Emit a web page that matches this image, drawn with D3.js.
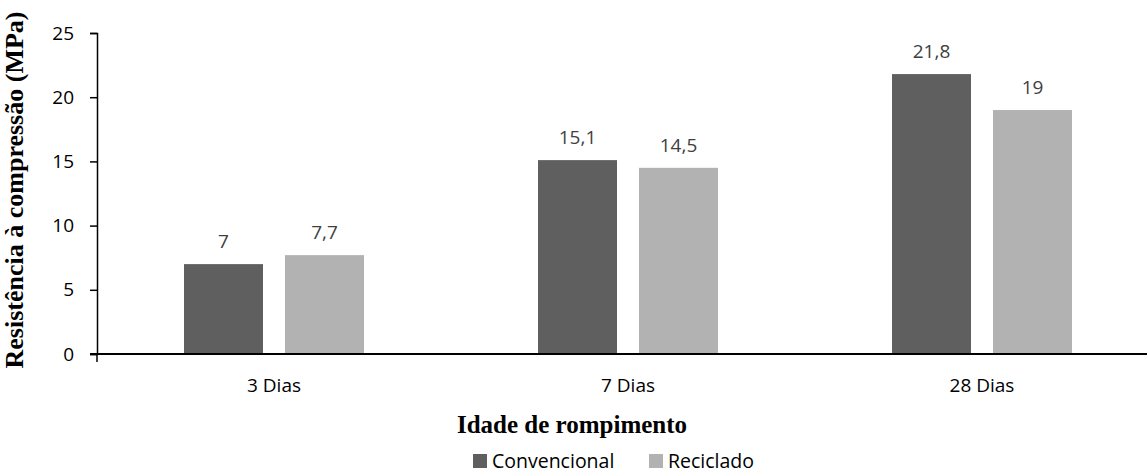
<!DOCTYPE html>
<html>
<head>
<meta charset="utf-8">
<script src="https://cdn.jsdelivr.net/npm/d3@7"></script>
<style>
  body { margin: 0; background: #fff; }
  svg text { font-family: "Open Sans", sans-serif; }
</style>
</head>
<body>
<svg id="chart" width="1147" height="475"></svg>
<script>
// chart data
var categories = ["3 Dias", "7 Dias", "28 Dias"];
var seriesNames = ["Convencional", "Reciclado"];
var convencional = [7, 15.1, 21.8];
var reciclado = [7.7, 14.5, 19];
var yTicks = [0, 5, 10, 15, 20, 25];
var colors = ["#5f5f5f", "#b2b2b2"];

(function() {
  var svg = d3.select("#chart");
  var plotLeft = 97, plotTop = 33, plotBottom = 354;
  var band = 354, barW = 79, gap = 22, offset = 87;

  // x scale - the last band runs a bit past the window, like the original
  var x = d3.scaleBand()
    .domain(categories)
    .range([plotLeft, plotLeft + band * categories.length]);

  var y = d3.scaleLinear().domain([0, 25]).range([plotBottom, plotTop]);

  var rows = categories.map(function(c, i) {
    return { cat: c, vals: [convencional[i], reciclado[i]] };
  });

  var groups = svg.selectAll("g.grp")
    .data(rows)
    .enter().append("g")
    .attr("class", "grp")
    .attr("transform", function(d) { return "translate(" + x(d.cat) + ",0)"; });

  function pairs(d) { return d.vals.map(function(v, j) { return { v: v, j: j }; }); }

  // bars
  groups.selectAll("rect")
    .data(pairs)
    .enter().append("rect")
    .attr("x", function(d) { return offset + d.j * (barW + gap); })
    .attr("y", function(d) { return y(d.v); })
    .attr("width", barW)
    .attr("height", function(d) { return plotBottom - y(d.v); })
    .attr("fill", function(d) { return colors[d.j]; });

  // data labels
  groups.selectAll("text.lbl")
    .data(pairs)
    .enter().append("text")
    .attr("class", "lbl")
    .attr("x", function(d) { return offset + d.j * (barW + gap) + barW / 2; })
    .attr("y", function(d) { return y(d.v) - 16; })
    .attr("text-anchor", "middle")
    .attr("fill", "#404040")
    .style("font-size", "19px")
    .text(function(d) { return String(d.v).replace(".", ","); });

  // y axis
  var yAxis = d3.axisLeft(y).tickValues(yTicks).tickSize(7).tickPadding(16);
  var gy = svg.append("g").attr("transform", "translate(" + plotLeft + ",0)").call(yAxis);
  gy.select(".domain").attr("stroke", "#000").attr("stroke-width", 1.5);
  gy.selectAll(".tick line").attr("stroke", "#000").attr("stroke-width", 1.5);
  gy.selectAll(".tick text").style("font-size", "19px").attr("fill", "#000")
    .style("font-family", "'Open Sans', sans-serif");

  // x axis line
  svg.append("line")
    .attr("x1", plotLeft - 7).attr("x2", 1147)
    .attr("y1", plotBottom).attr("y2", plotBottom)
    .attr("stroke", "#000").attr("stroke-width", 1.8);
  svg.append("line")
    .attr("x1", plotLeft).attr("x2", plotLeft)
    .attr("y1", plotBottom).attr("y2", plotBottom + 8)
    .attr("stroke", "#000").attr("stroke-width", 1.5);

  // category labels
  svg.selectAll("text.cat")
    .data(categories)
    .enter().append("text")
    .attr("class", "cat")
    .attr("x", function(d) { return x(d) + offset + barW + gap / 2; })
    .attr("y", 392)
    .attr("text-anchor", "middle")
    .style("font-size", "19px")
    .attr("fill", "#000")
    .text(function(d) { return d; });

  // axis titles
  svg.append("text")
    .attr("x", 572).attr("y", 433)
    .attr("text-anchor", "middle")
    .style("font-family", "'Liberation Serif', 'Times New Roman', serif")
    .style("font-weight", "bold")
    .style("font-size", "25px")
    .text("Idade de rompimento");

  svg.append("text")
    .attr("transform", "translate(23,190) rotate(-90)")
    .attr("text-anchor", "middle")
    .style("font-family", "'Liberation Serif', 'Times New Roman', serif")
    .style("font-weight", "bold")
    .style("font-size", "26px")
    .text("Resistência à compressão (MPa)");

  // legend (kept just inside the bottom edge)
  var legX = [473, 649];
  var leg = svg.selectAll("g.leg")
    .data(seriesNames)
    .enter().append("g")
    .attr("class", "leg")
    .attr("transform", function(d, i) { return "translate(" + legX[i] + ",454)"; });
  leg.append("rect")
    .attr("width", 14).attr("height", 14)
    .attr("fill", function(d, i) { return colors[i]; });
  leg.append("text")
    .attr("x", 19).attr("y", 14)
    .style("font-size", "19.5px")
    .attr("fill", "#000")
    .text(function(d) { return d; });
})();
</script>
</body>
</html>
